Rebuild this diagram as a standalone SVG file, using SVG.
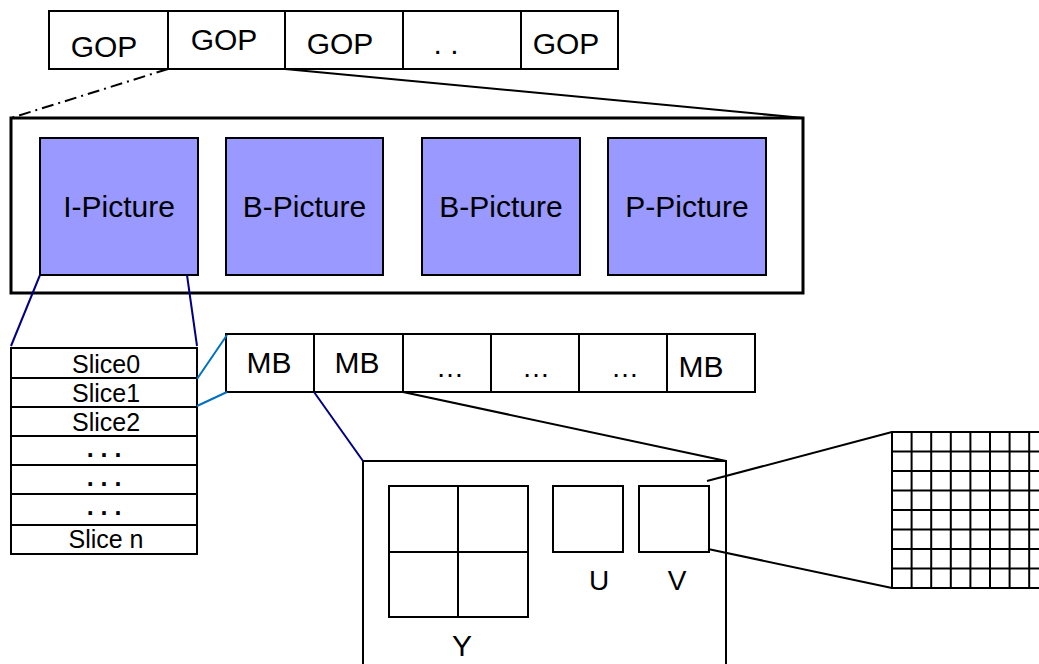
<svg xmlns="http://www.w3.org/2000/svg" width="1039" height="664" viewBox="0 0 1039 664">
  <style>
    .box { fill: #ffffff; stroke: #000000; stroke-width: 2; }
    .pic { fill: #9999ff; stroke: #000000; stroke-width: 2; }
    .frame { fill: #ffffff; stroke: #000000; stroke-width: 3; }
    .sep { stroke: #000000; stroke-width: 2; fill: none; }
    .lbl { font-family: "Liberation Sans", Arial, sans-serif; fill: #000000; text-anchor: middle; }
    .big { font-size: 30px; }
    .mid { font-size: 28px; }
    .small { font-size: 25px; }
    .navy { stroke: #000080; stroke-width: 2; fill: none; }
    .cyan { stroke: #0070c0; stroke-width: 2; fill: none; }
    .blk { stroke: #000000; stroke-width: 2; fill: none; }
    .dashdot { stroke: #000000; stroke-width: 2; fill: none; stroke-dasharray: 12 5 2 5; }
  </style>

  <!-- GOP sequence -->
  <g id="gop-row">
    <rect class="box" x="49" y="11" width="119" height="58"/>
    <rect class="box" x="168" y="11" width="117" height="58"/>
    <rect class="box" x="285" y="11" width="118" height="58"/>
    <rect class="box" x="403" y="11" width="118" height="58"/>
    <rect class="box" x="521" y="11" width="97" height="58"/>
    <text class="lbl big" x="104" y="57">GOP</text>
    <text class="lbl big" x="224" y="50">GOP</text>
    <text class="lbl big" x="340" y="54">GOP</text>
    <text class="lbl big" x="446" y="54">. .</text>
    <text class="lbl big" x="566" y="54">GOP</text>
  </g>

  <!-- pictures of one GOP -->
  <g id="gop-pictures">
    <rect class="frame" x="11" y="118" width="792" height="175"/>
  </g>
  <g id="i-picture">
    <rect class="pic" x="40" y="138" width="158" height="137"/>
    <text class="lbl big" x="119" y="217">I-Picture</text>
  </g>
  <g id="b-picture-1">
    <rect class="pic" x="226" y="138" width="157" height="137"/>
    <text class="lbl big" x="304.5" y="217">B-Picture</text>
  </g>
  <g id="b-picture-2">
    <rect class="pic" x="422" y="138" width="158" height="137"/>
    <text class="lbl big" x="501" y="217">B-Picture</text>
  </g>
  <g id="p-picture">
    <rect class="pic" x="608" y="138" width="158" height="137"/>
    <text class="lbl big" x="687" y="217">P-Picture</text>
  </g>

  <!-- slices of a picture -->
  <g id="slices">
    <rect class="box" x="11" y="348" width="186" height="206"/>
    <line class="sep" x1="11" y1="378" x2="197" y2="378"/>
    <line class="sep" x1="11" y1="407" x2="197" y2="407"/>
    <line class="sep" x1="11" y1="436" x2="197" y2="436"/>
    <line class="sep" x1="11" y1="465" x2="197" y2="465"/>
    <line class="sep" x1="11" y1="494" x2="197" y2="494"/>
    <line class="sep" x1="11" y1="525" x2="197" y2="525"/>
    <text class="lbl small" x="106" y="373">Slice0</text>
    <text class="lbl small" x="106" y="402">Slice1</text>
    <text class="lbl small" x="106" y="431">Slice2</text>
    <text class="lbl small" x="104" y="457" font-weight="bold">. . .</text>
    <text class="lbl small" x="104" y="486" font-weight="bold">. . .</text>
    <text class="lbl small" x="104" y="515" font-weight="bold">. . .</text>
    <text class="lbl small" x="106" y="548">Slice n</text>
  </g>

  <!-- macroblocks of a slice -->
  <g id="mb-row">
    <rect class="box" x="226" y="334" width="88" height="58"/>
    <rect class="box" x="314" y="334" width="89" height="58"/>
    <rect class="box" x="403" y="334" width="88" height="58"/>
    <rect class="box" x="491" y="334" width="88" height="58"/>
    <rect class="box" x="579" y="334" width="88" height="58"/>
    <rect class="box" x="667" y="334" width="88" height="58"/>
    <text class="lbl big" x="269" y="373">MB</text>
    <text class="lbl big" x="357" y="373">MB</text>
    <text class="lbl mid" x="450" y="377">…</text>
    <text class="lbl mid" x="536" y="377">…</text>
    <text class="lbl mid" x="625" y="377">…</text>
    <text class="lbl big" x="701" y="377">MB</text>
  </g>

  <!-- YUV blocks of a macroblock -->
  <g id="macroblock">
    <rect class="box" x="363" y="461" width="363" height="240"/>
  </g>
  <g id="y-blocks">
    <rect class="box" x="389" y="486" width="139" height="131"/>
    <line class="sep" x1="458" y1="486" x2="458" y2="617"/>
    <line class="sep" x1="389" y1="552" x2="528" y2="552"/>
    <text class="lbl big" x="462" y="656">Y</text>
  </g>
  <g id="u-block">
    <rect class="box" x="553" y="486" width="70" height="66"/>
    <text class="lbl mid" x="599" y="590">U</text>
  </g>
  <g id="v-block">
    <rect class="box" x="639" y="486" width="70" height="66"/>
    <text class="lbl mid" x="677" y="590">V</text>
  </g>

  <!-- 8x8 sample grid -->
  <g id="sample-grid">
    <rect class="box" x="892" y="432" width="157" height="156"/>
    <path class="sep" d="M911.6 432V588M931.2 432V588M950.8 432V588M970.4 432V588M990 432V588M1009.6 432V588M1029.2 432V588
                         M892 451.5H1049M892 471H1049M892 490.5H1049M892 510H1049M892 529.5H1049M892 549H1049M892 568.5H1049"/>
  </g>

  <!-- zoom connectors, drawn over the frames they cross -->
  <g id="connectors">
    <line class="dashdot" x1="168" y1="69" x2="11" y2="118"/>
    <line class="blk" x1="285" y1="69" x2="803" y2="118"/>
    <line class="navy" x1="40" y1="275" x2="11" y2="346"/>
    <line class="navy" x1="187" y1="275" x2="197" y2="346"/>
    <line class="cyan" x1="197" y1="379" x2="227" y2="335"/>
    <line class="cyan" x1="197" y1="406" x2="227" y2="392"/>
    <line class="navy" x1="314" y1="392" x2="363" y2="461"/>
    <line class="blk" x1="403" y1="392" x2="726" y2="461"/>
    <line class="blk" x1="707" y1="481" x2="892" y2="432"/>
    <line class="blk" x1="708" y1="549" x2="892" y2="588"/>
  </g>
</svg>
